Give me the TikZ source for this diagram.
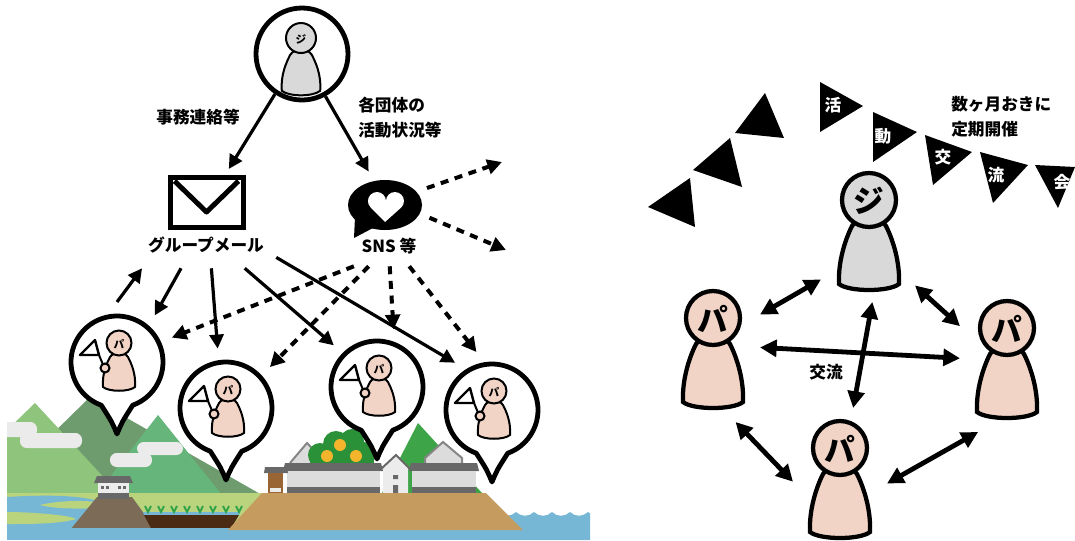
\documentclass[tikz,border=0pt]{standalone}
\usepackage{fontspec}
\setmainfont{Noto Sans CJK JP}
\usetikzlibrary{arrows.meta,calc,shapes.geometric}
\definecolor{skin}{HTML}{F2D4C6}
\definecolor{ash}{HTML}{D9D9D9}
\definecolor{hill1}{HTML}{8FC47C}
\definecolor{hill2}{HTML}{6E9C6F}
\definecolor{hill3}{HTML}{66B57B}
\definecolor{hill4}{HTML}{3DA447}
\definecolor{cloud}{HTML}{EBEBEB}
\definecolor{meadow}{HTML}{B9D47C}
\definecolor{water}{HTML}{76B7D6}
\definecolor{mound}{HTML}{7C6B57}
\definecolor{soil}{HTML}{4B2B14}
\definecolor{sand}{HTML}{C59B60}
\definecolor{roof}{HTML}{686868}
\definecolor{wall}{HTML}{DCDCDC}
\definecolor{plaster}{HTML}{ECECEC}
\definecolor{leaf}{HTML}{2A9139}
\definecolor{rice}{HTML}{2EA34A}
\definecolor{fruit}{HTML}{F4B42B}
\definecolor{shed}{HTML}{9A6535}
\tikzstyle{lbl}=[font=\bfseries\fontsize{12.5}{18.75}\selectfont, inner sep=0pt, align=left]
\tikzstyle{flagtxt}=[font=\bfseries\fontsize{12.5}{12.5}\selectfont, text=white, inner sep=0pt]
\tikzstyle{link}=[line width=2.4pt, -{Triangle[length=10.5pt,width=10.5pt]}]
\tikzstyle{share}=[line width=3pt, dash pattern=on 6pt off 5pt, -{Triangle[length=11pt,width=11pt]}]
\tikzstyle{meet}=[line width=3.6pt, {Triangle[length=12.5pt,width=12.5pt]}-{Triangle[length=12.5pt,width=12.5pt]}]
\tikzstyle{spot}=[circle, minimum size=90pt, inner sep=0pt, outer sep=0pt]
\tikzstyle{hub}=[rectangle, minimum width=70.5pt, minimum height=93pt, inner sep=0pt, outer sep=0pt]
\tikzset{
  pics/pawn/.style 2 args={code={
    \draw[line width=3.2pt, fill=#1] (-30,84) .. controls (-31,62) and (-24,40) .. (-17,26)
      .. controls (-10,14) and (10,14) .. (17,26)
      .. controls (24,40) and (31,62) .. (30,84)
      .. controls (20,92) and (-20,92) .. cycle;
    \draw[line width=3.2pt, fill=#1] (0,0) circle[radius=27];
    \node[font=\bfseries\fontsize{23}{23}\selectfont] at (0,1) {#2};
  }},
  pics/tiny/.style 2 args={code={
    \draw[line width=1.5pt, fill=#1] (-16,44) .. controls (-17,30) and (-12,20) .. (-9,14)
      .. controls (-5,8) and (5,8) .. (9,14)
      .. controls (12,20) and (17,30) .. (16,44)
      .. controls (10,49) and (-10,49) .. cycle;
    \draw[line width=1.5pt, fill=#1] (0,0) circle[radius=12.5];
    \node[font=\bfseries\fontsize{8}{8}\selectfont] at (0,1) {#2};
  }},
  pics/pin/.style={code={
    \draw[line width=3.6pt, fill=white, line join=round]
      (70:46) .. controls (5,60) .. (0,72) .. controls (-5,60) .. (110:46)
      arc[start angle=110, end angle=430, radius=46] -- cycle;
    \draw[line width=1.8pt, fill=white, line join=round] (-37,-7) -- (-22,-22) -- (-18,-7) -- cycle;
    \draw[line width=1.5pt] (-18,-7) -- (-13,5);
    \pic at (2,-19) {tiny={skin}{パ}};
    \draw[line width=1.5pt, fill=skin] (-12,6) circle[radius=4.5];
  }}
}
\begin{document}
\begin{tikzpicture}[x=0.75pt, y=-0.75pt]
        \useasboundingbox (0,0) rectangle (1075,540);
        \begin{scope}
            \clip (7,380) rectangle (590,540);
            \fill[hill2] (-10,495) -- (90,397) -- (262,495) -- cycle;
            \fill[hill1] (-60,495) -- (35,403) -- (120,495) -- cycle;
            \fill[hill3] (96,495) -- (158,415) -- (222,495) -- cycle;
            \fill[cloud, rounded corners=5pt] (0,422) rectangle (37,437) (20,433) rectangle (82,448);
            \fill[cloud, rounded corners=5pt] (110,453) rectangle (152,467) (137,442) rectangle (183,455);
            \fill[meadow] (7,493) rectangle (265,530);
            \fill[water] (7,497) .. controls (40,495) and (70,495) .. (90,499)
                .. controls (110,503) and (110,515) .. (95,520) -- (80,530) -- (7,530) -- cycle;
            \fill[meadow] (40,505) .. controls (60,500) and (90,500) .. (102,503) -- (102,508)
                .. controls (80,509) and (55,509) .. cycle;
            \fill[meadow] (7,512) .. controls (30,512) and (70,515) .. (76,519)
                .. controls (60,524) and (30,524) .. (7,524) -- cycle;
            \fill[mound] (70,530) -- (97,497) -- (132,497) -- (156,530) -- cycle;
            \fill[roof] (97,476) -- (130,476) -- (133,483) -- (94,483) -- cycle;
            \fill[plaster] (98,483) rectangle (129,493);
            \fill[roof] (98,493) rectangle (129,499);
            \foreach \x in {101,106,118,123}
                \fill[roof] (\x,486) rectangle ++(3,3);
            \fill[water] (143,512) -- (240,512) -- (239,515) -- (144,515) -- cycle;
            \fill[soil] (144,515) -- (239,515) -- (230,530) -- (152,530) -- cycle;
            \foreach \x in {148,161,174,187,200,213,226,239}
                \draw[rice, line width=1.4pt] (\x-3,506) -- (\x,512) -- (\x+3,506);
            \fill[water] (480,540) -- (480,512)
                \foreach \x in {480,498,...,588} { .. controls (\x+5,517) and (\x+13,517) .. (\x+18,512) }
                -- (606,540) -- cycle;
            \fill[water] (7,528) rectangle (590,540);
            \fill[hill4] (382,493) -- (418,423) -- (482,493) -- cycle;
            \draw[roof!80, line width=1.5pt, fill=wall] (290,463) -- (307,443) -- (326,463);
            \draw[roof!80, line width=1.5pt, fill=wall] (425,463) -- (425,458) -- (443,442) -- (462,458) -- (462,463);
            \fill[leaf] (310,458) rectangle (374,466);
            \fill[leaf] (320,455) circle[radius=12] (336,444) circle[radius=13] (352,441) circle[radius=12]
                (364,453) circle[radius=11] (342,456) circle[radius=12];
            \fill[fruit] (327,456) circle[radius=6] (340,445) circle[radius=6] (356,456) circle[radius=6];
            \fill[roof] (285,463) -- (381,463) -- (383,471) -- (283,471) -- cycle;
            \fill[wall] (287,471) rectangle (380,487);
            \fill[roof] (287,487) rectangle (380,493);
            \fill[roof] (411,463) -- (477,463) -- (479,471) -- (409,471) -- cycle;
            \fill[wall] (412,471) rectangle (476,487);
            \fill[roof] (412,487) rectangle (476,493);
            \fill[plaster] (383,493) -- (383,467) -- (396,456) -- (408,467) -- (408,493) -- cycle;
            \draw[roof, line width=1.5pt] (381,469) -- (396,455) -- (410,469);
            \fill[roof] (393,485) rectangle (398,493) (393,475) rectangle (398,479);
            \fill[roof] (265,467) -- (287,467) -- (288,473) -- (264,473) -- cycle;
            \fill[shed] (268,473) rectangle (283,493);
            \fill[plaster] (270,488) rectangle (281,492);
            \fill[sand] (228,530) -- (262,493) -- (486,493) -- (523,530) -- cycle;
        \end{scope}

        \node[circle, draw, line width=3.6pt, fill=white, minimum size=69pt, inner sep=0pt] (ji) at (302,54) {};
        \pic[scale=1.2] at (301,38) {tiny={ash}{ジ}};
        \node[draw, line width=3.75pt, minimum width=54.75pt, minimum height=37.5pt, inner sep=0pt, outer sep=6pt] (mail) at (206.5,202) {};
        \draw[line width=3.75pt, line join=round] ($(mail.center)+(-32,-21)$) -- ($(mail.center)+(0,10)$) -- ($(mail.center)+(32,-21)$);
        \node[ellipse, fill=black, minimum width=55.5pt, minimum height=37.5pt, inner sep=0pt, outer sep=8pt] (sns) at (385,205) {};
        \fill ($(sns.center)+(-30,12)$) -- ($(sns.center)+(-31,33)$) -- ($(sns.center)+(-12,23)$) -- cycle;
        \fill[white] ($(sns.center)+(0,17)$) -- ($(sns.center)+(-14.4,2.4)$)
            arc[start angle=135, end angle=360, radius=9]
            arc[start angle=180, end angle=405, radius=9] -- cycle;
        \node[lbl, minimum width=105pt, minimum height=34.5pt, align=center] (gm) at (206,245) {グループメール};
        \node[lbl, minimum width=60pt, minimum height=30pt, align=center] (sl) at (389,246) {SNS 等};
        \node[lbl] (jm) at (198,117) {事務連絡等};
        \node[lbl, anchor=west] (ks) at (358,118) {各団体の\\活動状況等};

        \pic at (117,362) {pin};
        \pic at (226,408) {pin};
        \pic at (377,387) {pin};
        \pic at (492,410) {pin};
        \node[spot] (p1) at (117,362) {};
        \node[spot] (p2) at (226,408) {};
        \node[spot] (p3) at (377,387) {};
        \node[spot] (p4) at (492,410) {};
        \coordinate (out1) at (502,162);
        \coordinate (out2) at (506,250);

        \draw[link] (ji.236) -- (mail.56);
        \draw[link] (ji.299) -- (sns.116);
        \draw[share] (sns.22) -- (out1);
        \draw[share] (sns.-16) -- (out2);
        \draw[link] (p1.90) -- (gm.200);
        \draw[link] (gm.223) -- (p1.51);
        \draw[link] (gm.283) -- (p2.98);
        \draw[link] (gm.329) -- (p3.136);
        \draw[link] (gm.350) -- (p4.128);
        \draw[share] (sl.210) -- (p1.24);
        \draw[share] (sl.225) -- (p2.43);
        \draw[share] (sl.272) -- (p3.74);
        \draw[share] (sl.315) -- (p4.105);

        \foreach \ax/\ay/\bx/\by/\cx/\cy in {735/133/765/93/784/138, 693/170/730/138/742/187, 648/207/690/178/695/227}
            \fill (\ax,\ay) -- (\bx,\by) -- (\cx,\cy) -- cycle;
        \foreach \ax/\ay/\bx/\by/\cx/\cy/\tx/\ty/\ch in {820/82/863/106/820/132/833/105/活,
            873/112/917/132/873/162/883/136/動, 925/135/972/152/933/185/943/157/交,
            980/152/1028/165/993/203/996/175/流, 1035/165/1075/167/1058/208/1062/182/会}
        {
            \fill (\ax,\ay) -- (\bx,\by) -- (\cx,\cy) -- cycle;
            \node[flagtxt] at (\tx,\ty) {\ch};
        }
        \node[lbl, anchor=west] (kk) at (951,117) {数ヶ月おきに\\定期開催};

        \pic at (869,200) {pawn={ash}{ジ}};
        \pic at (713,318) {pawn={skin}{パ}};
        \pic at (1007,328) {pawn={skin}{パ}};
        \pic at (840,448) {pawn={skin}{パ}};
        \node[hub] (gj) at (868,240) {};
        \node[hub] (pl) at (713,360) {};
        \node[hub] (pr) at (1007,370) {};
        \node[hub] (pb) at (840,470) {};
        \draw[meet] (pl.44) -- (gj.220);
        \draw[meet] (gj.316) -- (pr.137);
        \draw[meet] (pl.15) -- (pr.166);
        \draw[meet] (gj.274) -- (pb.78);
        \draw[meet] (pl.290) -- (pb.194);
        \draw[meet] (pb.344) -- (pr.245);
        \node[lbl] (kr) at (826,372) {交流};
    \end{tikzpicture}
\end{document}
